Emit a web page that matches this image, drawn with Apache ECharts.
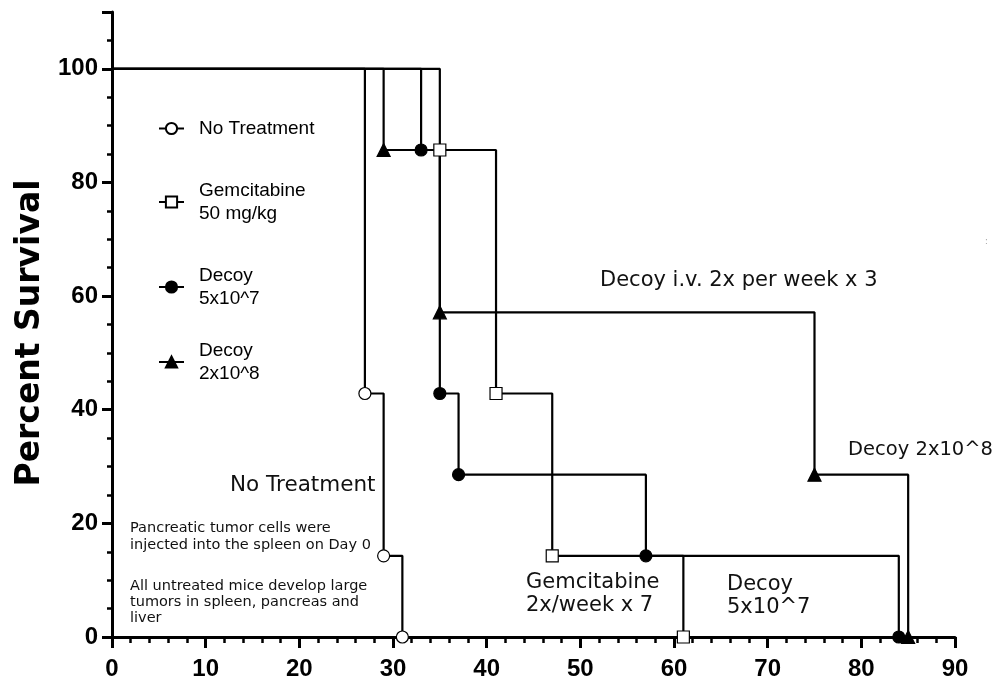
<!DOCTYPE html>
<html>
<head>
<meta charset="utf-8">
<script src="https://cdn.jsdelivr.net/npm/echarts@6/dist/echarts.min.js"></script>
<style>
  html, body { margin: 0; padding: 0; background: #fff; }
  #chart { width: 996px; height: 681px; }
</style>
</head>
<body>
<div id="chart"></div>
<script>
// Kaplan-Meier survival (percent) by day after tumor cell injection
const noTreatDays = [0, 27, 29, 31];
const noTreatSurv = [100, 42.86, 14.29, 0];
const gemDays = [0, 35, 41, 47, 61];
const gemSurv = [100, 85.71, 42.86, 14.29, 0];
const decoyLowDays = [0, 33, 35, 37, 57, 84];
const decoyLowSurv = [100, 85.71, 42.86, 28.57, 14.29, 0];
const decoyHighDays = [0, 29, 35, 75, 85];
const decoyHighSurv = [100, 85.71, 57.14, 28.57, 0];

const seriesNames = ['No Treatment', 'Gemcitabine\n50 mg/kg', 'Decoy\n5x10^7', 'Decoy\n2x10^8'];
const xTicks = { min: 0, max: 90, interval: 10 };
const yTicks = { min: 0, max: 110, interval: 20, lastLabel: 100 };

function steps(days, surv) {
  return days.map((d, i) => i === 0
    ? { value: [d, surv[i]], symbol: 'none' }
    : { value: [d, surv[i]] });
}

const legendFont = "'Liberation Sans', Arial, sans-serif";
const noteFont = "'DejaVu Sans', sans-serif";

function km(name, days, surv, symbol, fill, size) {
  return {
    name: name,
    type: 'line',
    step: 'end',
    clip: false,
    data: steps(days, surv),
    symbol: symbol,
    symbolSize: size,
    showAllSymbol: true,
    lineStyle: { color: '#000', width: 2.2 },
    itemStyle: { color: fill, borderColor: '#000', borderWidth: 1.2, opacity: 1 },
    z: 3
  };
}

function legendAt(name, top) {
  return {
    data: [name],
    left: 158,
    top: top,
    padding: 0,
    orient: 'vertical',
    itemWidth: 25,
    itemHeight: 14,
    selectedMode: false,
    textStyle: { fontFamily: legendFont, fontSize: 19, color: '#000', lineHeight: 23, padding: [0, 0, 0, 10] }
  };
}

const chart = echarts.init(document.getElementById('chart'), null, { renderer: 'canvas' });
chart.setOption({
  animation: false,
  backgroundColor: '#fff',
  grid: { left: 112, right: 41, top: 12, bottom: 44 },
  legend: [
    legendAt(seriesNames[0], 117),
    legendAt(seriesNames[1], 179),
    legendAt(seriesNames[2], 264),
    legendAt(seriesNames[3], 339)
  ],
  xAxis: {
    type: 'value',
    min: xTicks.min, max: xTicks.max, interval: xTicks.interval,
    axisLine: { lineStyle: { color: '#000', width: 3 } },
    axisTick: { length: 11, lineStyle: { color: '#000', width: 3 } },
    minorTick: { show: true, splitNumber: 5, length: 6, lineStyle: { color: '#000', width: 2.5 } },
    splitLine: { show: false },
    axisLabel: { fontFamily: "'Liberation Sans', Arial, sans-serif", fontWeight: 'bold', fontSize: 24, color: '#000', margin: 20 }
  },
  yAxis: {
    type: 'value',
    min: yTicks.min, max: yTicks.max, interval: yTicks.interval,
    name: 'Percent Survival',
    nameLocation: 'middle',
    nameGap: 62,
    nameTextStyle: { fontFamily: "'DejaVu Sans', sans-serif", fontWeight: 'bold', fontSize: 33, color: '#000', padding: [0, 17, 0, 0] },
    axisLine: { lineStyle: { color: '#000', width: 3 } },
    axisTick: { length: 10, lineStyle: { color: '#000', width: 3 } },
    minorTick: { show: true, splitNumber: 4, length: 5, lineStyle: { color: '#000', width: 2.5 } },
    splitLine: { show: false },
    axisLabel: {
      fontFamily: "'Liberation Sans', Arial, sans-serif", fontWeight: 'bold', fontSize: 24, color: '#000', margin: 14,
      formatter: v => (v > yTicks.lastLabel ? '' : String(v))
    }
  },
  series: [
    km(seriesNames[0], noTreatDays, noTreatSurv, 'circle', '#fff', 12),
    km(seriesNames[1], gemDays, gemSurv, 'rect', '#fff', 12),
    km(seriesNames[2], decoyLowDays, decoyLowSurv, 'circle', '#000', 12),
    km(seriesNames[3], decoyHighDays, decoyHighSurv, 'triangle', '#000', 13)
  ],
  graphic: [
    { type: 'text', left: 230, top: 474, style: { text: 'No Treatment', font: '21.5px ' + noteFont, fill: '#111' } },
    { type: 'text', left: 600, top: 270, style: { text: 'Decoy i.v. 2x per week x 3', font: '21px ' + noteFont, fill: '#111' } },
    { type: 'text', right: 3, top: 440, style: { text: 'Decoy 2x10^8', font: '19.5px ' + noteFont, fill: '#111' } },
    { type: 'text', left: 526, top: 571, style: { text: 'Gemcitabine\n2x/week x 7', font: '21px ' + noteFont, fill: '#111', lineHeight: 23 } },
    { type: 'text', left: 727, top: 573, style: { text: 'Decoy\n5x10^7', font: '21px ' + noteFont, fill: '#111', lineHeight: 23 } },
    { type: 'text', left: 130, top: 520, style: { text: 'Pancreatic tumor cells were\ninjected into the spleen on Day 0', font: '14.5px ' + noteFont, fill: '#111', lineHeight: 17 } },
    { type: 'text', left: 130, top: 578, style: { text: 'All untreated mice develop large\ntumors in spleen, pancreas and\nliver', font: '14.5px ' + noteFont, fill: '#111', lineHeight: 16 } },
    { type: 'text', left: 985, top: 238, style: { text: ':', font: '8px ' + noteFont, fill: '#999' } }
  ]
});
</script>
</body>
</html>
